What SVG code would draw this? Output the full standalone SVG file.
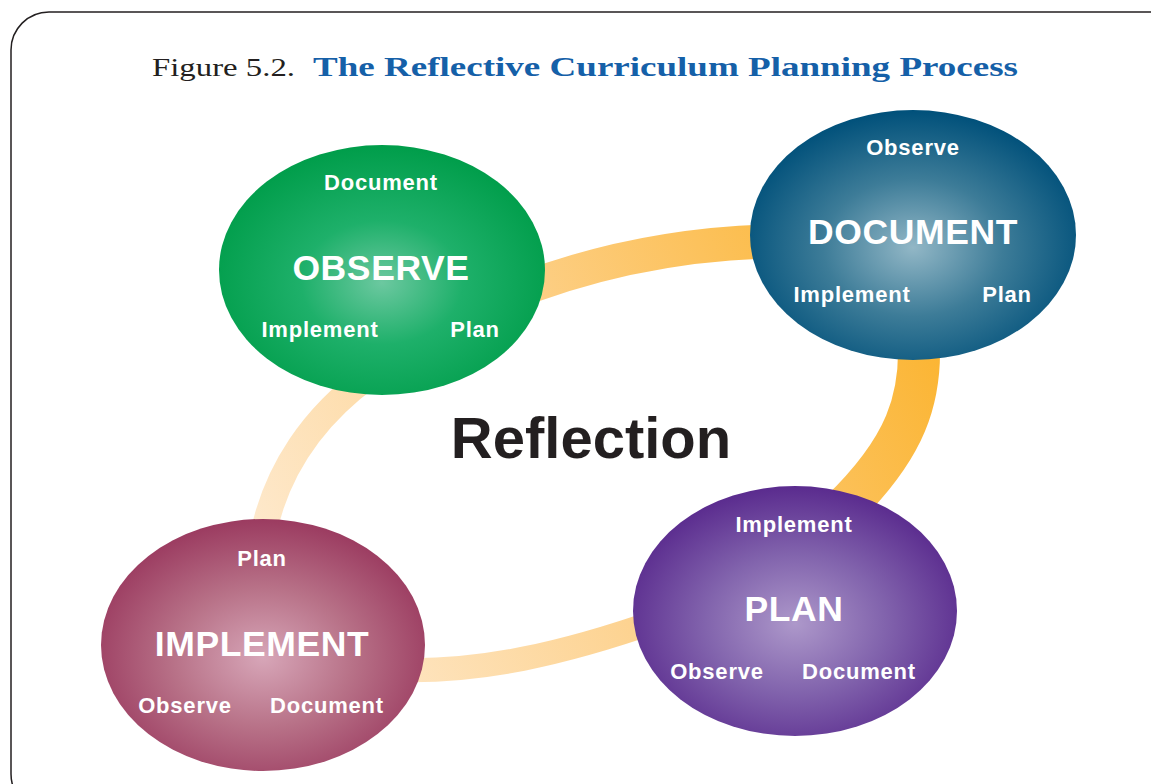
<svg xmlns="http://www.w3.org/2000/svg" width="1151" height="784" viewBox="0 0 1151 784">
<style>
.sm{font-family:"Liberation Sans",Arial,sans-serif;font-weight:bold;font-size:22px;fill:#fff;text-anchor:middle;letter-spacing:0.8px}
.big{font-family:"Liberation Sans",Arial,sans-serif;font-weight:bold;font-size:35.5px;fill:#fff;text-anchor:middle;letter-spacing:0.6px}
.ring{fill:none;stroke:url(#ringG);stroke-linecap:butt}
</style>
<defs>
<linearGradient id="ringG" gradientUnits="userSpaceOnUse" x1="260" y1="620" x2="930" y2="300">
<stop offset="0" stop-color="#feebd2"/>
<stop offset="0.5" stop-color="#fdd089"/>
<stop offset="1" stop-color="#fbb430"/>
</linearGradient>
<radialGradient id="gG" cx="0.5" cy="0.55" r="0.55">
<stop offset="0" stop-color="#6cc8a0"/>
<stop offset="0.45" stop-color="#1eb06a"/>
<stop offset="1" stop-color="#009d4a"/>
</radialGradient>
<radialGradient id="bG" cx="0.5" cy="0.55" r="0.55">
<stop offset="0" stop-color="#92b7c6"/>
<stop offset="0.5" stop-color="#3d7c98"/>
<stop offset="1" stop-color="#00507a"/>
</radialGradient>
<radialGradient id="pG" cx="0.5" cy="0.55" r="0.55">
<stop offset="0" stop-color="#ad98ca"/>
<stop offset="0.5" stop-color="#8264ad"/>
<stop offset="1" stop-color="#5a2b8e"/>
</radialGradient>
<radialGradient id="mG" cx="0.5" cy="0.55" r="0.55">
<stop offset="0" stop-color="#d7a6b8"/>
<stop offset="0.5" stop-color="#b87288"/>
<stop offset="1" stop-color="#9b3b60"/>
</radialGradient>
</defs>
<rect x="11" y="12" width="1200" height="800" rx="38" ry="38" fill="#fff" stroke="#231f20" stroke-width="1.5"/>
<g id="title">
<text x="152" y="76" font-family="Liberation Serif,'Times New Roman',serif" font-size="26" fill="#231f20" textLength="143" lengthAdjust="spacingAndGlyphs">Figure 5.2.</text>
<text x="313" y="76" font-family="Liberation Serif,'Times New Roman',serif" font-size="27" font-weight="bold" fill="#1560a8" textLength="705" lengthAdjust="spacingAndGlyphs">The Reflective Curriculum Planning Process</text>
</g>
<g id="connectors">
<path class="ring" stroke-width="34" d="M 500,298 C 580,265 680,240 800,241"/>
<path class="ring" stroke-width="42" d="M 917,320 C 927,400 902,452 840,512"/>
<path class="ring" stroke-width="26" d="M 370,375 C 315,415 275,470 262,540"/>
<path class="ring" stroke-width="24" d="M 400,670 C 480,672 560,655 660,620"/>
</g>
<text x="591" y="458" font-family="Liberation Sans,Arial,sans-serif" font-weight="bold" font-size="58" fill="#231f20" text-anchor="middle">Reflection</text>
<g id="observe">
<ellipse cx="382" cy="270" rx="163" ry="125" fill="url(#gG)"/>
<text class="sm" x="381" y="190">Document</text>
<text class="big" x="381" y="280">OBSERVE</text>
<text class="sm" x="320" y="337">Implement</text>
<text class="sm" x="475" y="337">Plan</text>
</g>
<g id="document">
<ellipse cx="913" cy="235" rx="163" ry="125" fill="url(#bG)"/>
<text class="sm" x="913" y="155">Observe</text>
<text class="big" x="913" y="244">DOCUMENT</text>
<text class="sm" x="852" y="302">Implement</text>
<text class="sm" x="1007" y="302">Plan</text>
</g>
<g id="plan">
<ellipse cx="795" cy="611" rx="162" ry="125" fill="url(#pG)"/>
<text class="sm" x="794" y="532">Implement</text>
<text class="big" x="794" y="621">PLAN</text>
<text class="sm" x="717" y="679">Observe</text>
<text class="sm" x="859" y="679">Document</text>
</g>
<g id="implement">
<ellipse cx="263" cy="645" rx="162" ry="126" fill="url(#mG)"/>
<text class="sm" x="262" y="566">Plan</text>
<text class="big" x="262" y="656">IMPLEMENT</text>
<text class="sm" x="185" y="713">Observe</text>
<text class="sm" x="327" y="713">Document</text>
</g>
</svg>
